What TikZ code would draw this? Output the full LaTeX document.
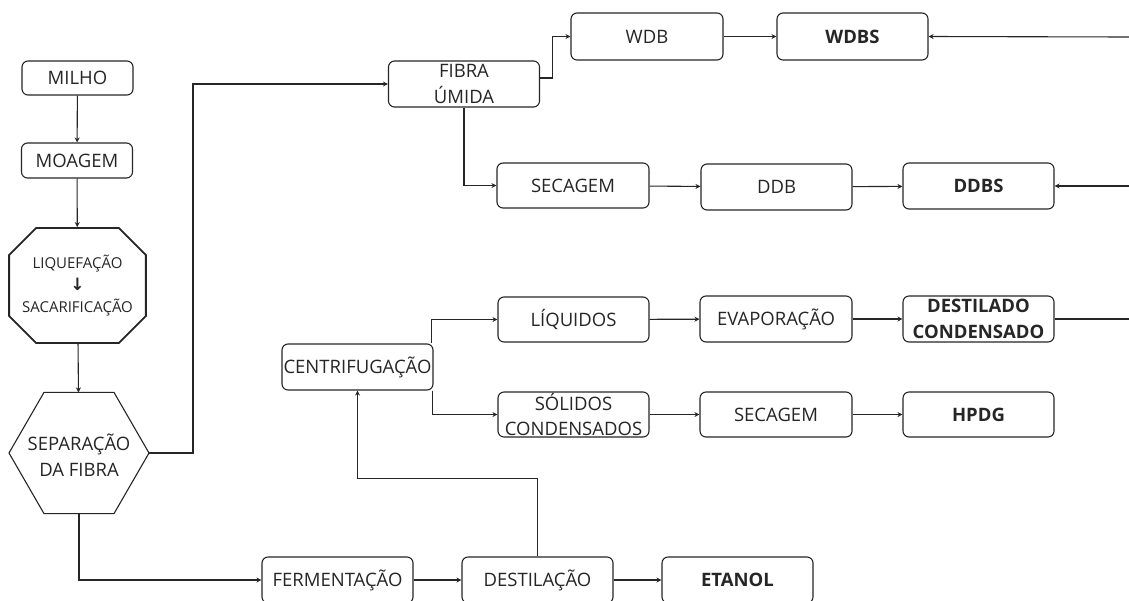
\documentclass[tikz,border=0pt]{standalone}
\usepackage{fontspec}
\setmainfont{Open Sans}
\newfontfamily\arrowfont{DejaVu Sans}
\usetikzlibrary{arrows.meta,shapes.geometric,shapes.misc,calc}
\tikzset{
  base/.style={font=\fontsize{18.5}{25.5}\selectfont, text=black!85},
  pbox/.style={base, draw=black!85, rounded corners=6pt, line width=1.1pt, inner sep=0pt,
               minimum width=151pt, minimum height=46pt, align=center},
  sbox/.style={pbox, minimum width=111pt, minimum height=34pt},
  bbox/.style={pbox, font=\fontsize{18.5}{25.5}\selectfont\bfseries},
  octo/.style={base, draw=black!85, line width=1.8pt, chamfered rectangle,
               chamfered rectangle xsep=13pt, chamfered rectangle ysep=14pt,
               minimum width=117pt, minimum height=115pt, inner sep=0pt, align=center,
               font=\fontsize{15}{22}\selectfont},
  hexa/.style={draw=black!85, line width=1.1pt, regular polygon, regular polygon sides=6,
               minimum size=140pt, inner sep=0pt, outer sep=0pt},
  arr/.style={draw=black!85, line width=1.1pt, -{Stealth[length=5pt,width=5pt]}},
  ln/.style={draw=black!85, line width=1.1pt}
}
\begin{document}
\begin{tikzpicture}[x=1pt,y=-1pt]
\clip (0,0) rectangle (1129,600);
\fill[white] (0,0) rectangle (1129,600);
% left column
\node[sbox] (milho) at (77.5,78) {MILHO};
\node[sbox, minimum height=35pt] (moagem) at (77,160.5) {MOAGEM};
\node[octo] (liq) at (77.5,285.5) {LIQUEFAÇÃO\\{\arrowfont\bfseries\fontsize{17}{22}\selectfont ↓}\\SACARIFICAÇÃO};
\node[hexa] (sep) at (79,453) {};
\node[base, align=center, inner sep=0pt] (septext) at (79,455) {SEPARAÇÃO\\DA FIBRA};
% top rows
\node[pbox] (fibra) at (464,84) {FIBRA\\ÚMIDA};
\node[pbox, minimum width=152pt, minimum height=47pt] (wdb) at (647,36.5) {WDB};
\node[bbox, minimum height=47pt] (wdbs) at (852.5,36.5) {WDBS};
\node[pbox, minimum width=152pt, minimum height=45pt] (sec1) at (573,185.5) {SECAGEM};
\node[pbox] (ddb) at (776.5,187) {DDB};
\node[bbox] (ddbs) at (978.5,186) {DDBS};
% middle rows
\node[pbox] (centr) at (357.5,367) {CENTRIFUGAÇÃO};
\node[pbox, minimum height=45pt] (liqd) at (573.5,319.5) {LÍQUIDOS};
\node[pbox, minimum height=45pt] (sol) at (573.5,414.5) {SÓLIDOS\\CONDENSADOS};
\node[pbox, minimum width=152pt] (evap) at (776,319) {EVAPORAÇÃO};
\node[bbox] (dest) at (978.5,319) {DESTILADO\\CONDENSADO};
\node[pbox, minimum width=152pt, minimum height=45pt] (sec2) at (776,414.5) {SECAGEM};
\node[bbox, minimum height=45pt] (hpdg) at (978.5,414.5) {HPDG};
% bottom row
\node[pbox] (ferm) at (337.5,580) {FERMENTAÇÃO};
\node[pbox] (destil) at (537.5,580) {DESTILAÇÃO};
\node[bbox] (etanol) at (737.5,580) {ETANOL};
% edge coordinates
\coordinate (e1) at (1129,37);
\coordinate (e2) at (1129,186);
\coordinate (e3) at (1129,319);
% connectors
\draw[arr] (milho) -- (moagem);
\draw[arr] (moagem) -- (liq);
\draw[arr] (liq) -- (sep);
\draw[arr] (sep.east) -- ++(44,0) |- (fibra.west);
\draw[arr] (sep.south) |- (ferm.west);
\draw[arr] ([yshift=6pt]fibra.east) -- ++(12,0) |- (wdb.west);
\draw[arr] (fibra.south) |- (sec1.west);
\draw[arr] (wdb) -- (wdbs);
\draw[arr] (sec1) -- (ddb);
\draw[arr] (ddb) -- (ddbs);
\draw[arr] (e1) -- (wdbs.east);
\draw[arr] (e2) -- (ddbs.east);
\draw[arr] ([xshift=-2pt]centr.north east) |- (liqd.west);
\draw[arr] ([xshift=-1pt]centr.south east) |- (sol.west);
\draw[arr] (liqd) -- (evap);
\draw[arr] (evap) -- (dest);
\draw[ln] (dest.east) -- (e3);
\draw[arr] (sol) -- (sec2);
\draw[arr] (sec2) -- (hpdg);
\draw[arr] (ferm) -- (destil);
\draw[arr] (destil) -- (etanol);
\draw[arr] (destil.north) -- ++(0,-78) -| (centr.south);
\end{tikzpicture}
\end{document}
